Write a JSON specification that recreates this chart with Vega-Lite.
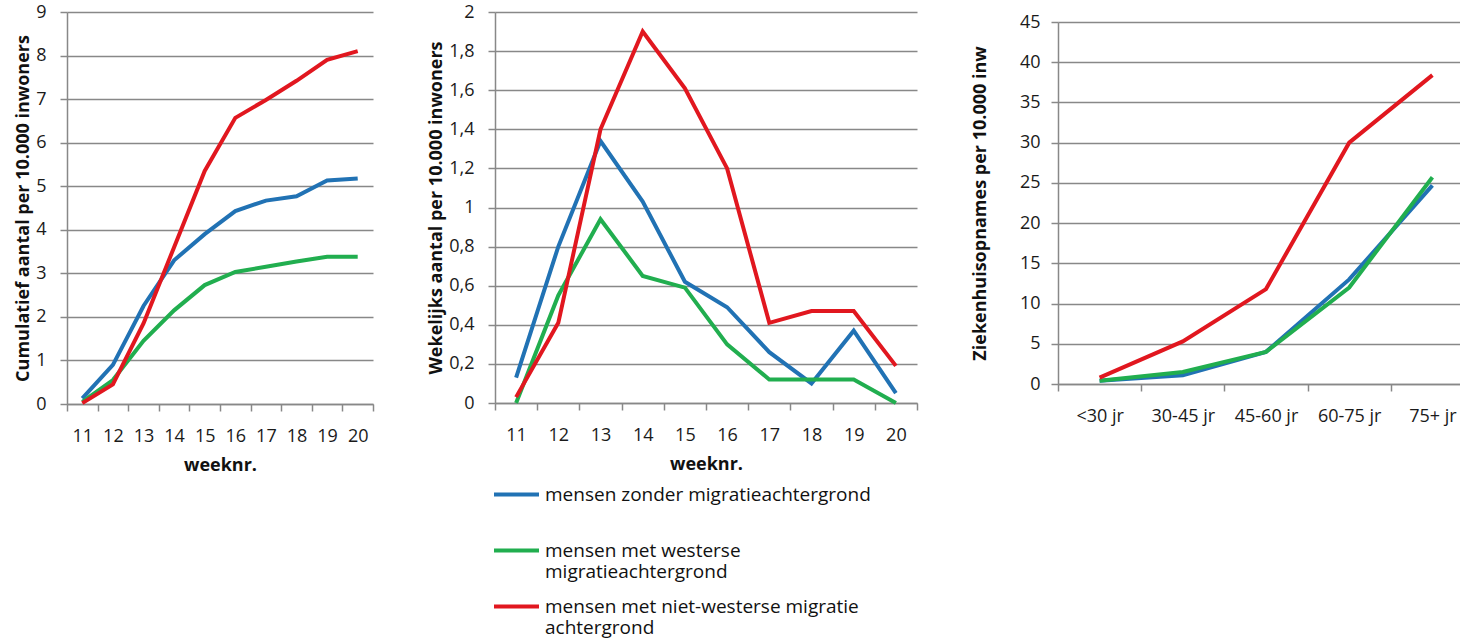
{
  "$schema": "https://vega.github.io/schema/vega-lite/v6.json",
  "background": "white",
  "padding": {"left": 14, "top": 3, "right": 0, "bottom": 0},
  "config": {
    "font": "Open Sans",
    "view": {"stroke": null},
    "axis": {
      "labelFont": "Open Sans",
      "labelFontSize": 18,
      "labelColor": "#1a1a1a",
      "titleFont": "Open Sans",
      "titleFontSize": 18,
      "titleFontWeight": "bold",
      "titleColor": "#111111",
      "gridColor": "#888888",
      "gridWidth": 1.5,
      "domainColor": "#888888",
      "domainWidth": 1.5,
      "tickColor": "#888888",
      "tickWidth": 1.5,
      "tickSize": 7,
      "labelPadding": 14
    }
  },
  "datasets": {
    "cum": [
      {"week": 11, "groep": "mensen zonder migratieachtergrond", "waarde": 0.13},
      {"week": 12, "groep": "mensen zonder migratieachtergrond", "waarde": 0.9},
      {"week": 13, "groep": "mensen zonder migratieachtergrond", "waarde": 2.25},
      {"week": 14, "groep": "mensen zonder migratieachtergrond", "waarde": 3.3},
      {"week": 15, "groep": "mensen zonder migratieachtergrond", "waarde": 3.9},
      {"week": 16, "groep": "mensen zonder migratieachtergrond", "waarde": 4.43},
      {"week": 17, "groep": "mensen zonder migratieachtergrond", "waarde": 4.67},
      {"week": 18, "groep": "mensen zonder migratieachtergrond", "waarde": 4.77},
      {"week": 19, "groep": "mensen zonder migratieachtergrond", "waarde": 5.13},
      {"week": 20, "groep": "mensen zonder migratieachtergrond", "waarde": 5.18},
      {"week": 11, "groep": "mensen met westerse migratieachtergrond", "waarde": 0.05},
      {"week": 12, "groep": "mensen met westerse migratieachtergrond", "waarde": 0.55},
      {"week": 13, "groep": "mensen met westerse migratieachtergrond", "waarde": 1.45},
      {"week": 14, "groep": "mensen met westerse migratieachtergrond", "waarde": 2.15},
      {"week": 15, "groep": "mensen met westerse migratieachtergrond", "waarde": 2.73},
      {"week": 16, "groep": "mensen met westerse migratieachtergrond", "waarde": 3.03},
      {"week": 17, "groep": "mensen met westerse migratieachtergrond", "waarde": 3.15},
      {"week": 18, "groep": "mensen met westerse migratieachtergrond", "waarde": 3.27},
      {"week": 19, "groep": "mensen met westerse migratieachtergrond", "waarde": 3.38},
      {"week": 20, "groep": "mensen met westerse migratieachtergrond", "waarde": 3.38},
      {"week": 11, "groep": "mensen met niet-westerse migratie achtergrond", "waarde": 0.02},
      {"week": 12, "groep": "mensen met niet-westerse migratie achtergrond", "waarde": 0.45},
      {"week": 13, "groep": "mensen met niet-westerse migratie achtergrond", "waarde": 1.85},
      {"week": 14, "groep": "mensen met niet-westerse migratie achtergrond", "waarde": 3.6},
      {"week": 15, "groep": "mensen met niet-westerse migratie achtergrond", "waarde": 5.35},
      {"week": 16, "groep": "mensen met niet-westerse migratie achtergrond", "waarde": 6.57},
      {"week": 17, "groep": "mensen met niet-westerse migratie achtergrond", "waarde": 6.98},
      {"week": 18, "groep": "mensen met niet-westerse migratie achtergrond", "waarde": 7.42},
      {"week": 19, "groep": "mensen met niet-westerse migratie achtergrond", "waarde": 7.9},
      {"week": 20, "groep": "mensen met niet-westerse migratie achtergrond", "waarde": 8.1}
    ],
    "wk": [
      {"week": 11, "groep": "mensen zonder migratieachtergrond", "waarde": 0.13},
      {"week": 12, "groep": "mensen zonder migratieachtergrond", "waarde": 0.8},
      {"week": 13, "groep": "mensen zonder migratieachtergrond", "waarde": 1.34},
      {"week": 14, "groep": "mensen zonder migratieachtergrond", "waarde": 1.03},
      {"week": 15, "groep": "mensen zonder migratieachtergrond", "waarde": 0.62},
      {"week": 16, "groep": "mensen zonder migratieachtergrond", "waarde": 0.49},
      {"week": 17, "groep": "mensen zonder migratieachtergrond", "waarde": 0.26},
      {"week": 18, "groep": "mensen zonder migratieachtergrond", "waarde": 0.1},
      {"week": 19, "groep": "mensen zonder migratieachtergrond", "waarde": 0.37},
      {"week": 20, "groep": "mensen zonder migratieachtergrond", "waarde": 0.05},
      {"week": 11, "groep": "mensen met westerse migratieachtergrond", "waarde": 0.0},
      {"week": 12, "groep": "mensen met westerse migratieachtergrond", "waarde": 0.55},
      {"week": 13, "groep": "mensen met westerse migratieachtergrond", "waarde": 0.94},
      {"week": 14, "groep": "mensen met westerse migratieachtergrond", "waarde": 0.65},
      {"week": 15, "groep": "mensen met westerse migratieachtergrond", "waarde": 0.59},
      {"week": 16, "groep": "mensen met westerse migratieachtergrond", "waarde": 0.3},
      {"week": 17, "groep": "mensen met westerse migratieachtergrond", "waarde": 0.12},
      {"week": 18, "groep": "mensen met westerse migratieachtergrond", "waarde": 0.12},
      {"week": 19, "groep": "mensen met westerse migratieachtergrond", "waarde": 0.12},
      {"week": 20, "groep": "mensen met westerse migratieachtergrond", "waarde": 0.0},
      {"week": 11, "groep": "mensen met niet-westerse migratie achtergrond", "waarde": 0.03},
      {"week": 12, "groep": "mensen met niet-westerse migratie achtergrond", "waarde": 0.41},
      {"week": 13, "groep": "mensen met niet-westerse migratie achtergrond", "waarde": 1.4},
      {"week": 14, "groep": "mensen met niet-westerse migratie achtergrond", "waarde": 1.9},
      {"week": 15, "groep": "mensen met niet-westerse migratie achtergrond", "waarde": 1.61},
      {"week": 16, "groep": "mensen met niet-westerse migratie achtergrond", "waarde": 1.2},
      {"week": 17, "groep": "mensen met niet-westerse migratie achtergrond", "waarde": 0.41},
      {"week": 18, "groep": "mensen met niet-westerse migratie achtergrond", "waarde": 0.47},
      {"week": 19, "groep": "mensen met niet-westerse migratie achtergrond", "waarde": 0.47},
      {"week": 20, "groep": "mensen met niet-westerse migratie achtergrond", "waarde": 0.19}
    ],
    "age": [
      {"leeftijd": "<30 jr", "groep": "mensen zonder migratieachtergrond", "waarde": 0.4},
      {"leeftijd": "30-45 jr", "groep": "mensen zonder migratieachtergrond", "waarde": 1.1},
      {"leeftijd": "45-60 jr", "groep": "mensen zonder migratieachtergrond", "waarde": 4.0},
      {"leeftijd": "60-75 jr", "groep": "mensen zonder migratieachtergrond", "waarde": 13.0},
      {"leeftijd": "75+ jr", "groep": "mensen zonder migratieachtergrond", "waarde": 24.7},
      {"leeftijd": "<30 jr", "groep": "mensen met westerse migratieachtergrond", "waarde": 0.4},
      {"leeftijd": "30-45 jr", "groep": "mensen met westerse migratieachtergrond", "waarde": 1.5},
      {"leeftijd": "45-60 jr", "groep": "mensen met westerse migratieachtergrond", "waarde": 4.0},
      {"leeftijd": "60-75 jr", "groep": "mensen met westerse migratieachtergrond", "waarde": 12.0},
      {"leeftijd": "75+ jr", "groep": "mensen met westerse migratieachtergrond", "waarde": 25.7},
      {"leeftijd": "<30 jr", "groep": "mensen met niet-westerse migratie achtergrond", "waarde": 0.8},
      {"leeftijd": "30-45 jr", "groep": "mensen met niet-westerse migratie achtergrond", "waarde": 5.3},
      {"leeftijd": "45-60 jr", "groep": "mensen met niet-westerse migratie achtergrond", "waarde": 11.8},
      {"leeftijd": "60-75 jr", "groep": "mensen met niet-westerse migratie achtergrond", "waarde": 30.0},
      {"leeftijd": "75+ jr", "groep": "mensen met niet-westerse migratie achtergrond", "waarde": 38.4}
    ]
  },
  "spacing": 53,
  "resolve": {"scale": {"color": "independent"}},
  "hconcat": [
    {
      "width": 306,
      "height": 392,
      "data": {"name": "cum"},
      "mark": {"type": "line", "strokeWidth": 4},
      "encoding": {
        "x": {
          "field": "week", "type": "ordinal", "bandPosition": 0.5,
          "scale": {"type": "band", "paddingInner": 0, "paddingOuter": 0},
          "axis": {"title": "weeknr.", "labelAngle": 0, "tickBand": "extent", "grid": false, "labelPadding": 16, "titlePadding": 11}
        },
        "y": {
          "field": "waarde", "type": "quantitative",
          "scale": {"domain": [0, 9], "nice": false},
          "axis": {"title": "Cumulatief aantal per 10.000 inwoners", "tickCount": 9, "titlePadding": 3}
        },
        "color": {
          "field": "groep", "type": "nominal",
          "scale": {"domain": ["mensen zonder migratieachtergrond", "mensen met westerse migratieachtergrond", "mensen met niet-westerse migratie achtergrond"], "range": ["#2172B4", "#21AE4F", "#E1171F"]},
          "legend": null
        }
      }
    },
    {
      "width": 422,
      "height": 391,
      "data": {"name": "wk"},
      "mark": {"type": "line", "strokeWidth": 4},
      "encoding": {
        "x": {
          "field": "week", "type": "ordinal", "bandPosition": 0.5,
          "scale": {"type": "band", "paddingInner": 0, "paddingOuter": 0},
          "axis": {"title": "weeknr.", "labelAngle": 0, "tickBand": "extent", "grid": false, "labelPadding": 16, "titlePadding": 11}
        },
        "y": {
          "field": "waarde", "type": "quantitative",
          "scale": {"domain": [0, 2], "nice": false},
          "axis": {"title": "Wekelijks aantal per 10.000 inwoners", "values": [0, 0.2, 0.4, 0.6, 0.8, 1, 1.2, 1.4, 1.6, 1.8, 2], "format": "~g", "labelExpr": "replace(datum.label, '.', ',')", "titlePadding": 3}
        },
        "color": {
          "field": "groep", "type": "nominal",
          "scale": {"domain": ["mensen zonder migratieachtergrond", "mensen met westerse migratieachtergrond", "mensen met niet-westerse migratie achtergrond"], "range": ["#2172B4", "#21AE4F", "#E1171F"]},
          "legend": {
            "title": null,
            "orient": "none",
            "legendX": -3,
            "legendY": 458,
            "padding": 0,
            "direction": "vertical",
            "symbolType": "stroke",
            "symbolSize": 2025,
            "symbolStrokeWidth": 4,
            "labelFontSize": 19,
            "labelFont": "Open Sans",
            "labelColor": "#111111",
            "labelOffset": 4,
            "labelLimit": 500,
            "rowPadding": 0,
            "labelExpr": "datum.value == 'mensen met westerse migratieachtergrond' ? ['mensen met westerse', 'migratieachtergrond'] : datum.value == 'mensen met niet-westerse migratie achtergrond' ? ['mensen met niet-westerse migratie', 'achtergrond'] : [datum.label, ' ']"
          }
        }
      }
    },
    {
      "spacing": 9,
      "bounds": "flush",
      "vconcat": [
        {
          "width": 416,
          "height": 1,
          "data": {"values": [{"a": 1}]},
          "mark": {"type": "text"},
          "encoding": {"text": {"value": ""}}
        },
        {
          "width": 416,
          "height": 362,
          "data": {"name": "age"},
          "mark": {"type": "line", "strokeWidth": 4},
          "encoding": {
            "x": {
              "field": "leeftijd", "type": "ordinal", "bandPosition": 0.5, "sort": null,
              "scale": {"type": "band", "paddingInner": 0, "paddingOuter": 0},
              "axis": {"title": null, "labelAngle": 0, "tickBand": "extent", "grid": false, "labelPadding": 16}
            },
            "y": {
              "field": "waarde", "type": "quantitative",
              "scale": {"domain": [0, 45], "nice": false},
              "axis": {"title": "Ziekenhuisopnames per 10.000 inw", "values": [0, 5, 10, 15, 20, 25, 30, 35, 40, 45], "labelPadding": 11, "titlePadding": 30}
            },
            "color": {
              "field": "groep", "type": "nominal",
              "scale": {"domain": ["mensen zonder migratieachtergrond", "mensen met westerse migratieachtergrond", "mensen met niet-westerse migratie achtergrond"], "range": ["#2172B4", "#21AE4F", "#E1171F"]},
              "legend": null
            }
          }
        }
      ]
    }
  ]
}
